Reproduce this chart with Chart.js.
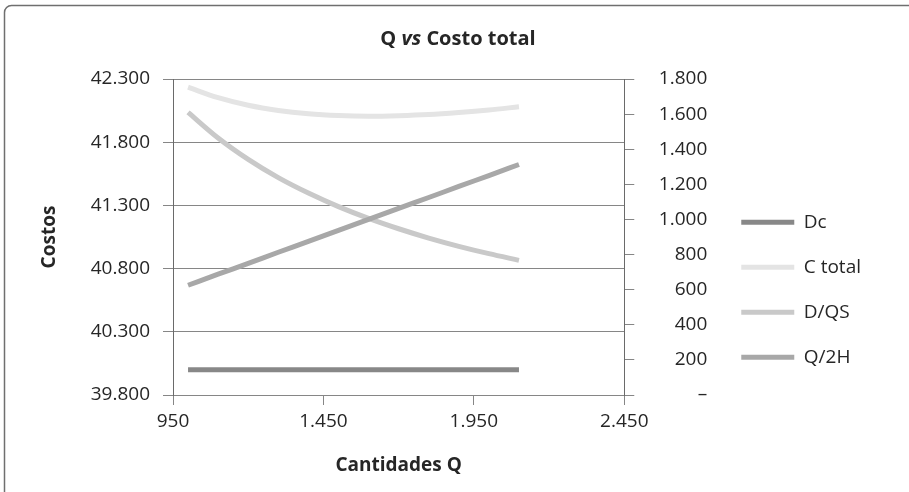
<!DOCTYPE html>
<html>
<head>
<meta charset="utf-8">
<script src="https://cdn.jsdelivr.net/npm/chart.js@4.4.1/dist/chart.umd.min.js"></script>
<style>
  html, body { margin: 0; padding: 0; background: #fff; }
</style>
</head>
<body>
<canvas id="costChart" width="909" height="492"></canvas>
<script>
// values
const cantidades = [1000, 1100, 1200, 1300, 1400, 1500, 1600, 1700, 1800, 1900, 2000, 2100];
const dc = [40000, 40000, 40000, 40000, 40000, 40000, 40000, 40000, 40000, 40000, 40000, 40000];
const cTotal = [42235, 42152, 42092, 42051, 42025, 42011, 42006, 42010, 42019, 42035, 42055, 42080];
const dQS = [1610, 1464, 1342, 1238, 1150, 1073, 1006, 947, 894, 847, 805, 767];
const q2H = [625, 688, 750, 813, 875, 938, 1000, 1063, 1125, 1188, 1250, 1313];

const xTicks = [950, 1450, 1950, 2450];
const leftTicks = [39800, 40300, 40800, 41300, 41800, 42300];
const rightTicks = [0, 200, 400, 600, 800, 1000, 1200, 1400, 1600, 1800];

const FONT = "'Open Sans', 'Noto Sans', sans-serif";
const TEXT = "#262626";
const GRID = "#868686";

const fmt = (v) => String(v).replace(/\B(?=(\d{3})+(?!\d))/g, ".");
const pts = (ys) => cantidades.map((q, i) => ({ x: q, y: ys[i] }));

const frame = {
  id: "frame",
  beforeDraw(chart) {
    const ctx = chart.ctx;
    ctx.save();
    ctx.strokeStyle = "#6f6f6f";
    ctx.lineWidth = 1.5;
    ctx.beginPath();
    ctx.roundRect(4.5, 5.5, 1200, 1200, 7);
    ctx.stroke();
    ctx.restore();
  },
  afterDraw(chart) {
    // title with italic "vs"
    const ctx = chart.ctx;
    const parts = [
      ["Q ", "bold 20px " + FONT],
      ["vs", "italic bold 20px " + FONT],
      [" Costo total", "bold 20px " + FONT],
    ];
    ctx.save();
    ctx.fillStyle = TEXT;
    ctx.textBaseline = "middle";
    let total = 0;
    parts.forEach(([t, f]) => { ctx.font = f; total += ctx.measureText(t).width; });
    let x = 458 - total / 2;
    parts.forEach(([t, f]) => {
      ctx.font = f;
      ctx.fillText(t, x, 39);
      x += ctx.measureText(t).width;
    });
    ctx.restore();
  },
};

const ctx = document.getElementById("costChart").getContext("2d");
const chart = new Chart(ctx, {
  type: "line",
  data: {
    datasets: [
      { label: "Dc", data: pts(dc), yAxisID: "y", borderColor: "#888888", backgroundColor: "#888888", order: 3 },
      { label: "C total", data: pts(cTotal), yAxisID: "y", borderColor: "#e4e4e4", backgroundColor: "#e4e4e4", order: 2 },
      { label: "D/QS", data: pts(dQS), yAxisID: "y1", borderColor: "#c9c9c9", backgroundColor: "#c9c9c9", order: 1 },
      { label: "Q/2H", data: pts(q2H), yAxisID: "y1", borderColor: "#a8a8a8", backgroundColor: "#a8a8a8", order: 0 },
    ],
  },
  options: {
    responsive: false,
    animation: false,
    layout: { padding: { top: 79, right: 38, bottom: 0, left: 0 } },
    elements: {
      line: { borderWidth: 5, cubicInterpolationMode: "monotone", fill: false },
      point: { radius: 0, hoverRadius: 0 },
    },
    plugins: {
      title: { display: false },
      tooltip: { enabled: false },
      legend: {
        position: "right",
        align: "center",
        maxWidth: 220,
        // empty title only nudges the items down a little
        title: { display: true, text: "", padding: 0, font: { size: 7 } },
        labels: {
          boxWidth: 53,
          boxHeight: 5,
          padding: 26,
          color: TEXT,
          font: { family: FONT, size: 19 },
          sort: (a, b) => a.datasetIndex - b.datasetIndex,
          generateLabels: (c) =>
            Chart.defaults.plugins.legend.labels.generateLabels(c).map((l) => ({ ...l, lineWidth: 0 })),
        },
      },
    },
    scales: {
      x: {
        type: "linear",
        min: 950,
        max: 2450,
        afterBuildTicks: (s) => { s.ticks = xTicks.map((v) => ({ value: v })); },
        afterFit: (s) => { s.height = 97; },
        ticks: { color: TEXT, font: { family: FONT, size: 19 }, padding: 5, callback: (v) => fmt(v) },
        grid: { drawOnChartArea: false, tickLength: 10, color: GRID },
        border: { color: GRID },
        title: {
          display: true,
          text: "Cantidades Q",
          color: TEXT,
          font: { family: FONT, size: 19, weight: "bold" },
          padding: { top: 0, bottom: 15 },
        },
      },
      y: {
        position: "left",
        min: 39800,
        max: 42300,
        afterBuildTicks: (s) => { s.ticks = leftTicks.map((v) => ({ value: v })); },
        afterFit: (s) => { s.width = 173; },
        ticks: { color: TEXT, font: { family: FONT, size: 19 }, padding: 13, callback: (v) => fmt(v) },
        grid: { color: GRID, tickLength: 10 },
        border: { color: "#6a6a6a" },
        title: {
          display: true,
          text: "Costos",
          color: TEXT,
          font: { family: FONT, size: 19, weight: "bold" },
          padding: { top: 38, bottom: 0 },
        },
      },
      y1: {
        position: "right",
        min: 0,
        max: 1800,
        afterBuildTicks: (s) => { s.ticks = rightTicks.map((v) => ({ value: v })); },
        afterFit: (s) => { s.width = 83; },
        ticks: {
          color: TEXT,
          font: { family: FONT, size: 19 },
          crossAlign: "far",
          callback: (v) => (v === 0 ? "–" : fmt(v)),
        },
        grid: { drawOnChartArea: false, tickLength: 10, color: GRID },
        border: { color: "#6a6a6a" },
      },
      gap: {
        position: "right",
        weight: 1,
        min: 0,
        max: 1,
        afterFit: (s) => { s.width = 8; },
        ticks: { display: false },
        grid: { display: false },
        border: { display: false },
      },
    },
  },
  plugins: [frame],
});
</script>
</body>
</html>
